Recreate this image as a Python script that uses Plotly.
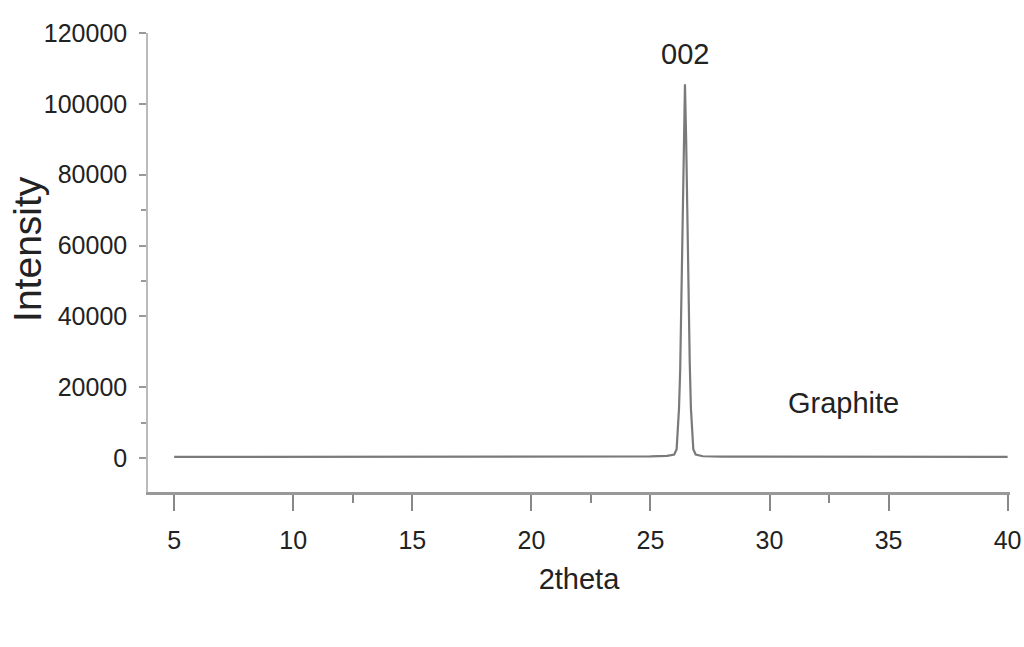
import plotly.graph_objects as go

two_theta = [5.0, 10.0, 15.0, 20.0, 23.5, 25.0, 25.7, 26.0, 26.1, 26.2, 26.25, 26.3, 26.35, 26.4,
             26.45, 26.5, 26.55, 26.6, 26.65, 26.7, 26.8, 26.9, 27.2, 28.0, 30.0, 35.0, 40.0]
intensity = [300, 300, 300, 300, 350, 450, 600, 1000, 2500, 14000, 25000, 45000, 65000, 90000,
             105500, 90000, 65000, 45000, 27000, 14000, 2500, 1000, 500, 400, 350, 300, 300]

x_ticks = [5, 10, 15, 20, 25, 30, 35, 40]
y_ticks = [0, 20000, 40000, 60000, 80000, 100000, 120000]
y_tick_text = ["0", "20000", "40000", "60000", "80000", "100000", "120000"]

FONT = "Liberation Sans, Arial, sans-serif"

fig = go.Figure()
fig.add_trace(go.Scatter(x=two_theta, y=intensity, mode="lines",
                         line=dict(color="#7a7a7a", width=2.2), showlegend=False))

fig.add_annotation(x=26.45, y=114000, text="002", showarrow=False,
                   font=dict(family=FONT, size=29, color="#222"))
fig.add_annotation(x=33.1, y=15500, text="Graphite", showarrow=False,
                   font=dict(family=FONT, size=29, color="#222"))
# y-axis title placed as a rotated annotation in paper coordinates
fig.add_annotation(xref="paper", yref="paper", x=-0.139, y=0.53, text="Intensity",
                   textangle=-90, showarrow=False, xanchor="center", yanchor="middle",
                   font=dict(family=FONT, size=39, color="#222"))

fig.update_layout(
    width=1024, height=647,
    margin=dict(l=148, r=14, t=33, b=155),
    plot_bgcolor="white", paper_bgcolor="white",
    xaxis=dict(range=[3.9, 40.1], tickvals=x_ticks, ticks="outside", ticklen=16,
               tickcolor="#888", tickwidth=1.5, automargin=False, ticklabelstandoff=8,
               showline=True, linecolor="#999", linewidth=2.5, showgrid=False, zeroline=False,
               tickfont=dict(family=FONT, size=25, color="#222"),
               minor=dict(tickvals=[12.5, 22.5, 32.5], ticks="outside", ticklen=8, tickcolor="#888"),
               title=dict(text="2theta", font=dict(family=FONT, size=29, color="#222"), standoff=16)),
    yaxis=dict(range=[-9600, 120000], tickvals=y_ticks, ticktext=y_tick_text, ticks="outside", ticklen=7,
               tickcolor="#999", tickwidth=1.5, automargin=False, ticklabelstandoff=7,
               showline=True, linecolor="#bbb", linewidth=1.5, showgrid=False, zeroline=False,
               tickfont=dict(family=FONT, size=25, color="#222"),
               minor=dict(tickvals=[10000, 50000, 70000], ticks="outside", ticklen=5, tickcolor="#999")),
)

fig.write_html("out.html")
